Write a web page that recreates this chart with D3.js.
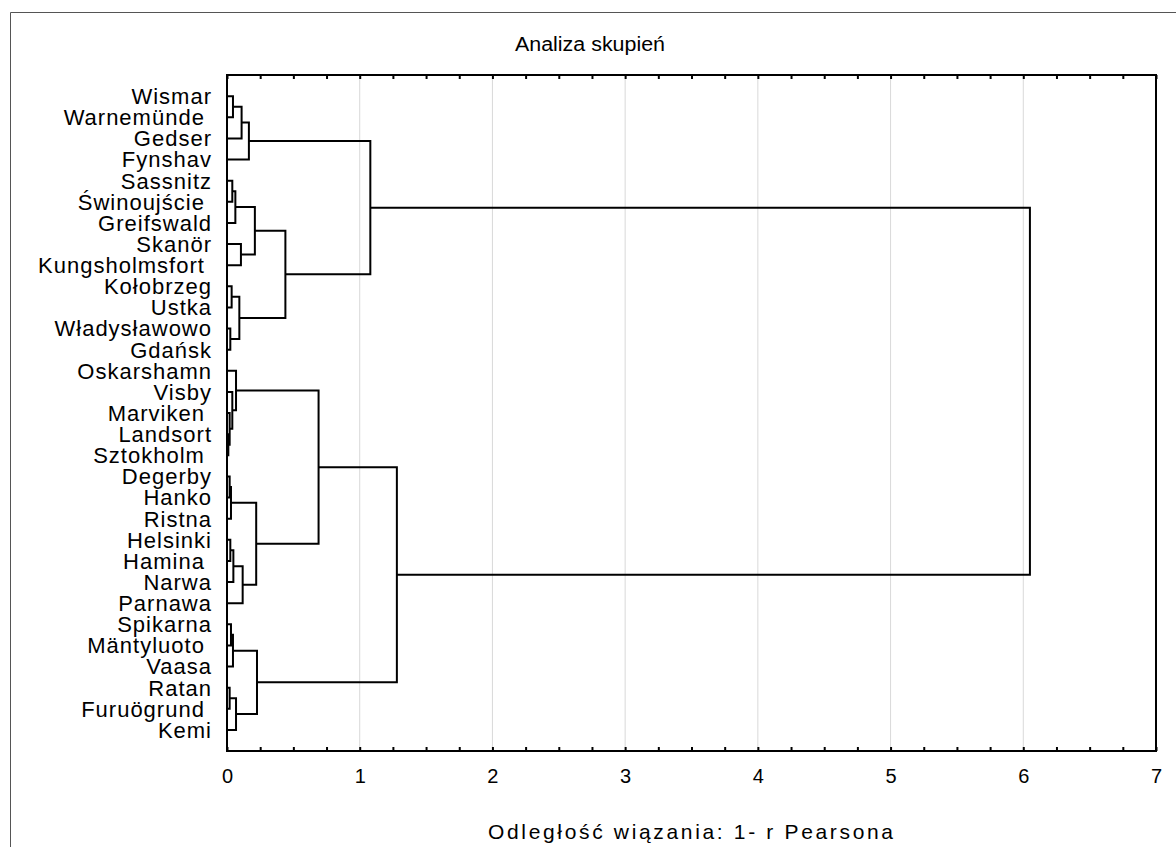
<!DOCTYPE html>
<html>
<head>
<meta charset="utf-8">
<style>
body { margin: 0; background: #fff; }
svg text { font-family: "Liberation Sans", Arial, sans-serif; fill: #000; }
.leaf { font-size: 22px; letter-spacing: 1px; white-space: pre; }
</style>
</head>
<body>
<svg id="chart" width="1176" height="847"></svg>
<script src="https://cdn.jsdelivr.net/npm/d3@7"></script>
<script>
// leaf order as shown, top to bottom
var labels = ["Wismar", "Warnemünde ", "Gedser", "Fynshav", "Sassnitz", "Świnoujście ",
  "Greifswald", "Skanör", "Kungsholmsfort ", "Kołobrzeg", "Ustka", "Władysławowo",
  "Gdańsk", "Oskarshamn", "Visby", "Marviken ", "Landsort", "Sztokholm ", "Degerby",
  "Hanko", "Ristna", "Helsinki", "Hamina ", "Narwa", "Parnawa", "Spikarna",
  "Mäntyluoto ", "Vaasa", "Ratan", "Furuögrund ", "Kemi"];

// linkage: [child a, child b, distance]; ids >= labels.length point to earlier merges
var merges = [
  [0, 1, 0.045], [31, 2, 0.11], [32, 3, 0.165],
  [4, 5, 0.04], [34, 6, 0.063], [7, 8, 0.105], [35, 36, 0.21],
  [9, 10, 0.035], [11, 12, 0.025], [38, 39, 0.093], [37, 40, 0.44],
  [33, 41, 1.08],
  [16, 17, 0.01], [15, 43, 0.02], [14, 44, 0.04], [13, 45, 0.068],
  [18, 19, 0.02], [47, 20, 0.03], [21, 22, 0.025], [49, 23, 0.048], [50, 24, 0.118],
  [48, 51, 0.22], [46, 52, 0.69],
  [25, 26, 0.03], [54, 27, 0.045], [28, 29, 0.02], [56, 30, 0.068], [55, 57, 0.226],
  [53, 58, 1.28],
  [42, 59, 6.05]
];

var xTicks = [0, 1, 2, 3, 4, 5, 6, 7];

var svg = d3.select("#chart");
var pLeft = 227, pRight = 1156, pTop = 75, pBottom = 751;

// outer frame
svg.append("path")
  .attr("d", "M10.5,847 V12.5 H1176")
  .attr("fill", "none")
  .attr("stroke", "#555")
  .attr("stroke-width", 1);

var x = d3.scaleLinear().domain([0, 7]).range([pLeft, pRight]);
var y = d3.scalePoint().domain(d3.range(labels.length)).range([pTop, pBottom]).padding(1);

// grid
svg.append("g").selectAll("line")
  .data(xTicks.slice(1, -1))
  .join("line")
  .attr("x1", d => x(d)).attr("x2", d => x(d))
  .attr("y1", pTop).attr("y2", pBottom)
  .attr("stroke", "#d9d9d9").attr("stroke-width", 1);

var minor = d3.range(0, 7.001, 0.25);

var gb = svg.append("g").attr("transform", "translate(0," + pBottom + ")")
  .call(d3.axisBottom(x).tickValues(minor).tickSize(-4).tickPadding(18)
    .tickFormat(d => Number.isInteger(d) ? d3.format("d")(d) : ""));
gb.select(".domain").remove();
gb.selectAll(".tick line").attr("stroke", "#000").attr("stroke-width", 2);
gb.selectAll(".tick text")
  .style("font-family", "'Liberation Sans', Arial, sans-serif")
  .style("font-size", "20px");

var gt = svg.append("g").attr("transform", "translate(0," + pTop + ")")
  .call(d3.axisTop(x).tickValues(minor).tickSize(-4).tickFormat(""));
gt.select(".domain").remove();
gt.selectAll(".tick line").attr("stroke", "#000").attr("stroke-width", 2);

// plot box
svg.append("rect")
  .attr("x", pLeft).attr("y", pTop)
  .attr("width", pRight - pLeft).attr("height", pBottom - pTop)
  .attr("fill", "none").attr("stroke", "#000").attr("stroke-width", 2);

// node positions
var n = labels.length;
var nodeY = [], nodeH = [];
labels.forEach(function(d, i) { nodeY[i] = y(i); nodeH[i] = 0; });
merges.forEach(function(m, k) {
  var id = n + k;
  nodeY[id] = (nodeY[m[0]] + nodeY[m[1]]) / 2;
  nodeH[id] = m[2];
});

svg.append("g").selectAll("path")
  .data(merges)
  .join("path")
  .attr("d", function(m) {
    var a = m[0], b = m[1];
    return "M" + x(nodeH[a]) + "," + nodeY[a] +
      "H" + x(m[2]) + "V" + nodeY[b] + "H" + x(nodeH[b]);
  })
  .attr("fill", "none")
  .attr("stroke", "#000")
  .attr("stroke-width", 2);

// leaf labels
svg.append("g").selectAll("text")
  .data(labels)
  .join("text")
  .attr("class", "leaf")
  .attr("x", 212)
  .attr("y", (d, i) => y(i))
  .attr("dy", "0.36em")
  .attr("text-anchor", "end")
  .text(d => d);

svg.append("text")
  .attr("x", 515).attr("y", 51)
  .attr("textLength", 150)
  .attr("lengthAdjust", "spacingAndGlyphs")
  .style("font-size", "20px")
  .text("Analiza skupień");

svg.append("text")
  .attr("x", 488).attr("y", 839)
  .attr("textLength", 405)
  .attr("lengthAdjust", "spacing")
  .style("font-size", "21px")
  .text("Odległość wiązania: 1- r Pearsona");
</script>
</body>
</html>
